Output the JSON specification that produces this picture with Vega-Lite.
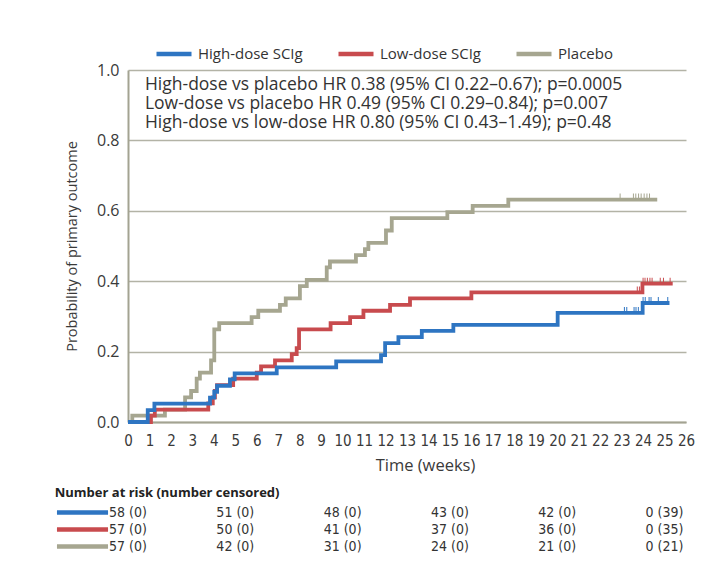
{
  "$schema": "https://vega.github.io/schema/vega-lite/v6.json",
  "background": "white",
  "padding": {"left": 54, "top": 34, "right": 5, "bottom": 5},
  "spacing": 13,
  "config": {
    "font": "Open Sans",
    "view": {"stroke": null},
    "axis": {"labelColor": "#3a3a3a", "titleColor": "#3a3a3a", "titleFontWeight": "normal"},
    "title": {"color": "#222222"}
  },
  "resolve": {"legend": {"color": "independent"}},
  "datasets": {
    "km": [
      {"group": "High-dose SCIg", "t": 0, "p": 0},
      {"group": "High-dose SCIg", "t": 0.92, "p": 0.034},
      {"group": "High-dose SCIg", "t": 1.23, "p": 0.052},
      {"group": "High-dose SCIg", "t": 3.82, "p": 0.069},
      {"group": "High-dose SCIg", "t": 4.02, "p": 0.086},
      {"group": "High-dose SCIg", "t": 4.15, "p": 0.103},
      {"group": "High-dose SCIg", "t": 4.75, "p": 0.121},
      {"group": "High-dose SCIg", "t": 4.97, "p": 0.138},
      {"group": "High-dose SCIg", "t": 6.93, "p": 0.155},
      {"group": "High-dose SCIg", "t": 9.7, "p": 0.172},
      {"group": "High-dose SCIg", "t": 11.79, "p": 0.19},
      {"group": "High-dose SCIg", "t": 11.98, "p": 0.224},
      {"group": "High-dose SCIg", "t": 12.6, "p": 0.241},
      {"group": "High-dose SCIg", "t": 13.69, "p": 0.259},
      {"group": "High-dose SCIg", "t": 15.16, "p": 0.276},
      {"group": "High-dose SCIg", "t": 20.02, "p": 0.31},
      {"group": "High-dose SCIg", "t": 23.98, "p": 0.338},
      {"group": "High-dose SCIg", "t": 25.23, "p": 0.338},
      {"group": "Low-dose SCIg", "t": 0, "p": 0},
      {"group": "Low-dose SCIg", "t": 1.07, "p": 0.018},
      {"group": "Low-dose SCIg", "t": 1.25, "p": 0.035},
      {"group": "Low-dose SCIg", "t": 3.74, "p": 0.053},
      {"group": "Low-dose SCIg", "t": 3.95, "p": 0.07},
      {"group": "Low-dose SCIg", "t": 4.05, "p": 0.088},
      {"group": "Low-dose SCIg", "t": 4.15, "p": 0.105},
      {"group": "Low-dose SCIg", "t": 4.9, "p": 0.123},
      {"group": "Low-dose SCIg", "t": 6.0, "p": 0.14},
      {"group": "Low-dose SCIg", "t": 6.2, "p": 0.158},
      {"group": "Low-dose SCIg", "t": 6.85, "p": 0.175},
      {"group": "Low-dose SCIg", "t": 7.63, "p": 0.193},
      {"group": "Low-dose SCIg", "t": 7.86, "p": 0.21},
      {"group": "Low-dose SCIg", "t": 7.97, "p": 0.263},
      {"group": "Low-dose SCIg", "t": 9.44, "p": 0.281},
      {"group": "Low-dose SCIg", "t": 10.35, "p": 0.298},
      {"group": "Low-dose SCIg", "t": 10.97, "p": 0.316},
      {"group": "Low-dose SCIg", "t": 12.21, "p": 0.333},
      {"group": "Low-dose SCIg", "t": 13.14, "p": 0.351},
      {"group": "Low-dose SCIg", "t": 16.0, "p": 0.368},
      {"group": "Low-dose SCIg", "t": 23.97, "p": 0.393},
      {"group": "Low-dose SCIg", "t": 25.38, "p": 0.393},
      {"group": "Placebo", "t": 0, "p": 0},
      {"group": "Placebo", "t": 0.2, "p": 0.018},
      {"group": "Placebo", "t": 1.72, "p": 0.035},
      {"group": "Placebo", "t": 2.66, "p": 0.07},
      {"group": "Placebo", "t": 2.94, "p": 0.088},
      {"group": "Placebo", "t": 3.2, "p": 0.123},
      {"group": "Placebo", "t": 3.35, "p": 0.14},
      {"group": "Placebo", "t": 3.87, "p": 0.175},
      {"group": "Placebo", "t": 4.02, "p": 0.263},
      {"group": "Placebo", "t": 4.25, "p": 0.281},
      {"group": "Placebo", "t": 5.76, "p": 0.298},
      {"group": "Placebo", "t": 6.07, "p": 0.316},
      {"group": "Placebo", "t": 7.08, "p": 0.333},
      {"group": "Placebo", "t": 7.35, "p": 0.351},
      {"group": "Placebo", "t": 8.01, "p": 0.386},
      {"group": "Placebo", "t": 8.33, "p": 0.404},
      {"group": "Placebo", "t": 9.26, "p": 0.439},
      {"group": "Placebo", "t": 9.41, "p": 0.456},
      {"group": "Placebo", "t": 10.62, "p": 0.474},
      {"group": "Placebo", "t": 11.04, "p": 0.491},
      {"group": "Placebo", "t": 11.2, "p": 0.509},
      {"group": "Placebo", "t": 12.02, "p": 0.544},
      {"group": "Placebo", "t": 12.29, "p": 0.579},
      {"group": "Placebo", "t": 14.88, "p": 0.596},
      {"group": "Placebo", "t": 16.06, "p": 0.614},
      {"group": "Placebo", "t": 17.72, "p": 0.632},
      {"group": "Placebo", "t": 24.66, "p": 0.632}
    ],
    "censor": [
      {"group": "Placebo", "t": 22.93, "p": 0.632},
      {"group": "Placebo", "t": 23.55, "p": 0.632},
      {"group": "Placebo", "t": 23.66, "p": 0.632},
      {"group": "Placebo", "t": 23.79, "p": 0.632},
      {"group": "Placebo", "t": 23.91, "p": 0.632},
      {"group": "Placebo", "t": 24.05, "p": 0.632},
      {"group": "Placebo", "t": 24.18, "p": 0.632},
      {"group": "Placebo", "t": 24.3, "p": 0.632},
      {"group": "Low-dose SCIg", "t": 23.73, "p": 0.368},
      {"group": "Low-dose SCIg", "t": 23.83, "p": 0.368},
      {"group": "Low-dose SCIg", "t": 23.92, "p": 0.368},
      {"group": "Low-dose SCIg", "t": 24.0, "p": 0.393},
      {"group": "Low-dose SCIg", "t": 24.09, "p": 0.393},
      {"group": "Low-dose SCIg", "t": 24.2, "p": 0.393},
      {"group": "Low-dose SCIg", "t": 24.32, "p": 0.393},
      {"group": "Low-dose SCIg", "t": 24.42, "p": 0.393},
      {"group": "Low-dose SCIg", "t": 24.8, "p": 0.393},
      {"group": "Low-dose SCIg", "t": 24.95, "p": 0.393},
      {"group": "Low-dose SCIg", "t": 25.26, "p": 0.393},
      {"group": "High-dose SCIg", "t": 23.13, "p": 0.31},
      {"group": "High-dose SCIg", "t": 23.24, "p": 0.31},
      {"group": "High-dose SCIg", "t": 23.58, "p": 0.31},
      {"group": "High-dose SCIg", "t": 23.67, "p": 0.31},
      {"group": "High-dose SCIg", "t": 23.78, "p": 0.31},
      {"group": "High-dose SCIg", "t": 24.0, "p": 0.338},
      {"group": "High-dose SCIg", "t": 24.1, "p": 0.338},
      {"group": "High-dose SCIg", "t": 24.28, "p": 0.338},
      {"group": "High-dose SCIg", "t": 24.37, "p": 0.338},
      {"group": "High-dose SCIg", "t": 24.71, "p": 0.338},
      {"group": "High-dose SCIg", "t": 25.15, "p": 0.338}
    ],
    "risk": [
      {"group": "High-dose SCIg", "week": 0, "label": "58 (0)"},
      {"group": "High-dose SCIg", "week": 5, "label": "51 (0)"},
      {"group": "High-dose SCIg", "week": 10, "label": "48 (0)"},
      {"group": "High-dose SCIg", "week": 15, "label": "43 (0)"},
      {"group": "High-dose SCIg", "week": 20, "label": "42 (0)"},
      {"group": "High-dose SCIg", "week": 25, "label": "0 (39)"},
      {"group": "Low-dose SCIg", "week": 0, "label": "57 (0)"},
      {"group": "Low-dose SCIg", "week": 5, "label": "50 (0)"},
      {"group": "Low-dose SCIg", "week": 10, "label": "41 (0)"},
      {"group": "Low-dose SCIg", "week": 15, "label": "37 (0)"},
      {"group": "Low-dose SCIg", "week": 20, "label": "36 (0)"},
      {"group": "Low-dose SCIg", "week": 25, "label": "0 (35)"},
      {"group": "Placebo", "week": 0, "label": "57 (0)"},
      {"group": "Placebo", "week": 5, "label": "42 (0)"},
      {"group": "Placebo", "week": 10, "label": "31 (0)"},
      {"group": "Placebo", "week": 15, "label": "24 (0)"},
      {"group": "Placebo", "week": 20, "label": "21 (0)"},
      {"group": "Placebo", "week": 25, "label": "0 (21)"}
    ]
  },
  "vconcat": [
    {
      "width": 558,
      "height": 352,
      "resolve": {"axis": {"x": "independent", "y": "independent"}},
      "layer": [
        {
          "encoding": {
            "x": {
              "field": "t", "type": "quantitative",
              "scale": {"domain": [0, 26], "nice": false, "zero": false},
              "axis": {
                "values": [0,1,2,3,4,5,6,7,8,9,10,11,12,13,14,15,16,17,18,19,20,21,22,23,24,25,26],
                "labelFont": "DejaVu Sans Condensed, Roboto, sans-serif", "labelFontSize": 15, "labelPadding": 11,
                "ticks": false, "grid": false, "labelFlush": false, "labelOverlap": false,
                "domainColor": "#a3a392", "domainWidth": 2,
                "title": "Time (weeks)", "titleFont": "Open Sans", "titleFontSize": 16.5, "titlePadding": 9, "titleX": 297
              }
            },
            "y": {
              "field": "p", "type": "quantitative",
              "scale": {"domain": [0, 1], "nice": false},
              "axis": {
                "values": [0, 0.2, 0.4, 0.6, 0.8, 1], "format": ".1f",
                "labelFont": "Open Sans", "labelFontSize": 16, "labelPadding": 9,
                "ticks": false, "grid": true, "gridColor": "#b3b3a6", "gridWidth": 1.3,
                "domainColor": "#a3a392", "domainWidth": 2,
                "title": "Probability of primary outcome", "titleFontSize": 14.5, "titlePadding": 17
              }
            },
            "color": {
              "field": "group", "type": "nominal",
              "scale": {"domain": ["High-dose SCIg", "Low-dose SCIg", "Placebo"], "range": ["#2e75c2", "#c84b4e", "#a6a690"]},
              "legend": {
                "orient": "none", "legendX": 26, "legendY": -36, "direction": "horizontal", "title": null,
                "symbolType": "stroke", "symbolSize": 1225, "symbolStrokeWidth": 4.5, "symbolOpacity": 1,
                "labelFont": "Open Sans", "labelFontSize": 15, "labelColor": "#333333", "labelOffset": 4, "columnPadding": 26
              }
            }
          },
          "layer": [
            {"data": {"name": "km"}, "transform": [{"filter": "datum.group === 'Placebo'"}], "mark": {"type": "line", "interpolate": "step-after", "strokeWidth": 3.8}},
            {"data": {"name": "km"}, "transform": [{"filter": "datum.group === 'Low-dose SCIg'"}], "mark": {"type": "line", "interpolate": "step-after", "strokeWidth": 3.8}},
            {"data": {"name": "km"}, "transform": [{"filter": "datum.group === 'High-dose SCIg'"}], "mark": {"type": "line", "interpolate": "step-after", "strokeWidth": 3.8}},
            {"data": {"name": "censor"}, "mark": {"type": "tick", "orient": "vertical", "thickness": 1, "size": 6, "yOffset": -3, "opacity": 1}}
          ]
        },
        {
          "data": {"values": [{"label": "High-dose vs placebo HR 0.38 (95% CI 0.22\u20130.67); p=0.0005"}]},
          "mark": {"type": "text", "align": "left", "baseline": "alphabetic", "fontSize": 17.5, "font": "Open Sans", "color": "#333333"},
          "encoding": {"x": {"datum": 0.79, "type": "quantitative", "axis": null}, "y": {"datum": 0.944, "type": "quantitative", "axis": null}, "text": {"field": "label"}}
        },
        {
          "data": {"values": [{"label": "Low-dose vs placebo HR 0.49 (95% CI 0.29\u20130.84); p=0.007"}]},
          "mark": {"type": "text", "align": "left", "baseline": "alphabetic", "fontSize": 17.5, "font": "Open Sans", "color": "#333333"},
          "encoding": {"x": {"datum": 0.79, "type": "quantitative", "axis": null}, "y": {"datum": 0.889, "type": "quantitative", "axis": null}, "text": {"field": "label"}}
        },
        {
          "data": {"values": [{"label": "High-dose vs low-dose HR 0.80 (95% CI 0.43\u20131.49); p=0.48"}]},
          "mark": {"type": "text", "align": "left", "baseline": "alphabetic", "fontSize": 17.5, "font": "Open Sans", "color": "#333333"},
          "encoding": {"x": {"datum": 0.79, "type": "quantitative", "axis": null}, "y": {"datum": 0.835, "type": "quantitative", "axis": null}, "text": {"field": "label"}}
        }
      ]
    },
    {
      "width": 558,
      "height": 51,
      "title": {"text": "Number at risk (number censored)", "anchor": "start", "frame": "bounds", "fontSize": 13, "fontWeight": "bold", "font": "Open Sans", "offset": 4},
      "data": {"name": "risk"},
      "layer": [
        {
          "transform": [{"filter": "datum.week === 0"}],
          "mark": {"type": "rule", "strokeWidth": 4.5},
          "encoding": {
            "x": {"datum": -3.31, "type": "quantitative", "scale": {"domain": [0, 26], "nice": false, "zero": false}, "axis": null},
            "x2": {"datum": -0.93},
            "y": {"field": "group", "type": "nominal", "scale": {"type": "band", "domain": ["High-dose SCIg", "Low-dose SCIg", "Placebo"], "paddingInner": 0, "paddingOuter": 0}, "axis": null},
            "color": {"field": "group", "type": "nominal", "legend": null}
          }
        },
        {
          "mark": {"type": "text", "font": "DejaVu Sans Condensed, Roboto, sans-serif", "fontSize": 14, "align": "center", "baseline": "middle", "color": "#333333"},
          "encoding": {
            "x": {"field": "week", "type": "quantitative", "scale": {"domain": [0, 26], "nice": false, "zero": false}, "axis": null},
            "y": {"field": "group", "type": "nominal", "scale": {"type": "band", "domain": ["High-dose SCIg", "Low-dose SCIg", "Placebo"], "paddingInner": 0, "paddingOuter": 0}, "axis": null},
            "text": {"field": "label"}
          }
        }
      ]
    }
  ]
}
